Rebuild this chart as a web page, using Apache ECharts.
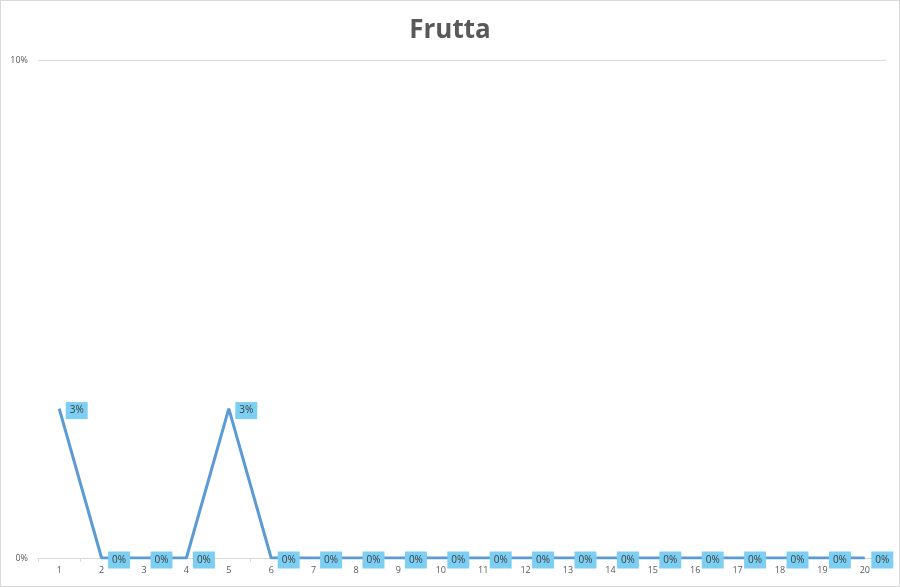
<!DOCTYPE html>
<html>
<head>
<meta charset="utf-8">
<script src="https://cdn.jsdelivr.net/npm/echarts@6/dist/echarts.min.js"></script>
<style>
  html, body { margin: 0; padding: 0; background: #fff; }
  #chart { width: 898px; height: 585px; border: 1px solid #d9d9d9; }
</style>
</head>
<body>
<div id="chart"></div>
<script>
var categories = ['1','2','3','4','5','6','7','8','9','10','11','12','13','14','15','16','17','18','19','20'];
var values = [3, 0, 0, 0, 3, 0, 0, 0, 0, 0, 0, 0, 0, 0, 0, 0, 0, 0, 0, 0];
var yMin = 0, yMax = 10, yStep = 10;

var myChart = echarts.init(document.getElementById('chart'));

var option = {
    title: {
        text: 'Frutta',
        left: 'center',
        top: 12,
        textStyle: {
            fontFamily: 'Open Sans',
            fontSize: 26,
            fontWeight: 'bold',
            color: '#595959'
        }
    },
    grid: {
        left: 37,
        right: 13,
        top: 59,
        bottom: 28
    },
    xAxis: {
        type: 'category',
        data: categories,
        boundaryGap: true,
        axisLine: { lineStyle: { color: '#d9d9d9' } },
        axisTick: { show: true, length: 4, lineStyle: { color: '#d9d9d9' } },
        axisLabel: { color: '#595959', fontSize: 9, margin: 8, fontFamily: 'Open Sans' }
    },
    yAxis: {
        type: 'value',
        min: yMin,
        max: yMax,
        interval: yStep,
        axisLine: { show: false },
        axisTick: { show: false },
        splitLine: { lineStyle: { color: '#d9d9d9' } },
        axisLabel: {
            color: '#595959',
            fontSize: 9,
            margin: 10,
            fontFamily: 'Open Sans',
            formatter: '{value}%'
        }
    },
    series: [{
        type: 'line',
        data: values,
        symbol: 'circle',
        symbolSize: 1,
        showSymbol: true,
        itemStyle: { color: 'rgba(0,0,0,0)' },
        lineStyle: { color: '#5b9bd5', width: 3 },
        z: 3,
        label: {
            show: true,
            position: 'right',
            distance: 6,
            offset: [0, 2],
            formatter: '{c}%',
            color: '#404040',
            fontSize: 10,
            fontFamily: 'Open Sans',
            backgroundColor: '#7ccff2',
            padding: [4, 4, 3, 4]
        }
    }]
};

myChart.setOption(option);
</script>
</body>
</html>
